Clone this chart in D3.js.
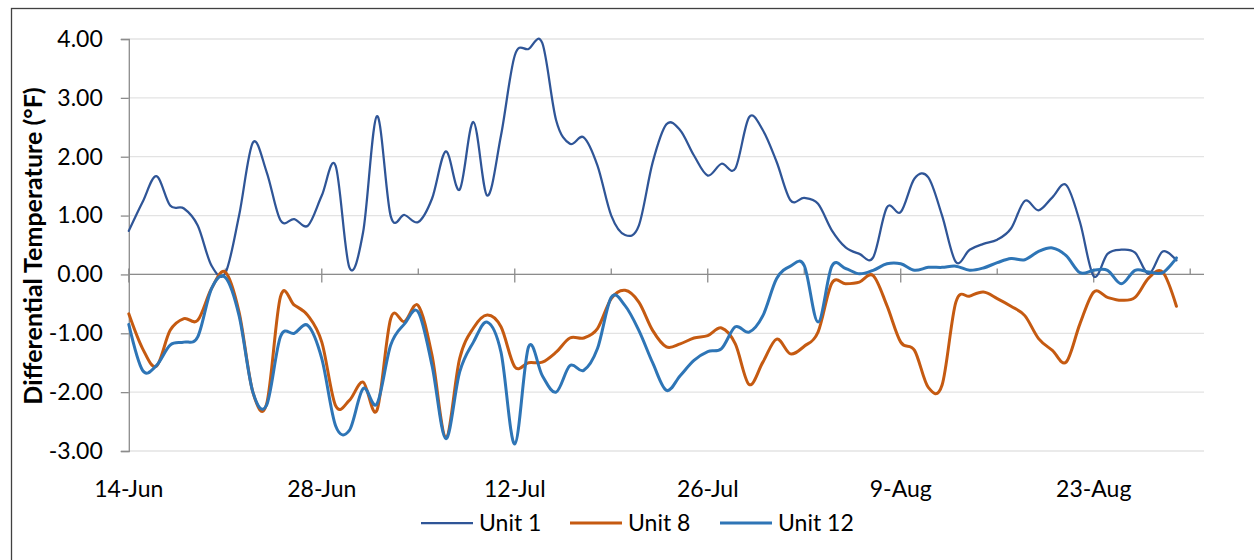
<!DOCTYPE html>
<html>
<head>
<meta charset="utf-8">
<script src="https://cdn.jsdelivr.net/npm/d3@7"></script>
<style>
  html, body { margin: 0; padding: 0; background: #fff; }
  svg { display: block; font-family: Lato, "Open Sans", sans-serif; }
</style>
</head>
<body>
<svg id="chart" width="1254" height="560"></svg>
<script>
// Daily differential temperature (°F), starting 14-Jun
const startDate = "2016-06-14";

const unit1 = [
  0.74, 1.23, 1.67, 1.17, 1.12, 0.83, 0.15, 0.02, 1.00, 2.24, 1.74, 0.92, 0.94,
  0.83, 1.34, 1.85, 0.12, 0.72, 2.69, 0.99, 1.01, 0.89, 1.29, 2.09, 1.44, 2.59,
  1.34, 2.36, 3.72, 3.83, 3.93, 2.62, 2.22, 2.33, 1.85, 1.00, 0.67, 0.83, 1.90,
  2.55, 2.45, 2.02, 1.68, 1.88, 1.80, 2.67, 2.45, 1.91, 1.26, 1.30, 1.20, 0.75,
  0.46, 0.35, 0.29, 1.14, 1.06, 1.63, 1.65, 1.00, 0.21, 0.42, 0.52, 0.59, 0.78,
  1.25, 1.09, 1.31, 1.52, 0.89, -0.03, 0.35, 0.42, 0.37, 0.01, 0.39, 0.24
];

const unit8 = [
  -0.67, -1.26, -1.56, -0.95, -0.75, -0.78, -0.24, 0.04, -0.64, -2.00, -2.20, -0.38, -0.52,
  -0.70, -1.15, -2.23, -2.14, -1.83, -2.31, -0.75, -0.80, -0.53, -1.38, -2.76, -1.43, -0.91,
  -0.69, -0.89, -1.57, -1.50, -1.49, -1.32, -1.08, -1.08, -0.92, -0.41, -0.27, -0.47, -0.95,
  -1.23, -1.18, -1.08, -1.04, -0.91, -1.18, -1.87, -1.49, -1.10, -1.35, -1.22, -0.98, -0.15,
  -0.16, -0.13, -0.02, -0.53, -1.15, -1.29, -1.92, -1.88, -0.47, -0.37, -0.30, -0.41, -0.54,
  -0.70, -1.09, -1.29, -1.49, -0.84, -0.30, -0.39, -0.44, -0.39, -0.06, 0.04, -0.54
];

const unit12 = [
  -0.85, -1.63, -1.55, -1.20, -1.15, -1.06, -0.24, -0.05, -0.70, -2.00, -2.22, -1.06, -1.00,
  -0.87, -1.43, -2.57, -2.65, -1.94, -2.20, -1.20, -0.84, -0.64, -1.55, -2.79, -1.66, -1.15,
  -0.81, -1.32, -2.88, -1.23, -1.72, -2.00, -1.55, -1.63, -1.26, -0.39, -0.53, -0.95, -1.50,
  -1.97, -1.72, -1.46, -1.31, -1.26, -0.89, -0.98, -0.70, -0.07, 0.14, 0.15, -0.81, 0.14,
  0.10, 0.01, 0.07, 0.18, 0.18, 0.07, 0.12, 0.12, 0.14, 0.07, 0.11, 0.20, 0.27,
  0.25, 0.39, 0.45, 0.32, 0.03, 0.07, 0.07, -0.16, 0.07, 0.04, 0.03, 0.28
];

const seriesNames = ["Unit 1", "Unit 8", "Unit 12"];
const yTicks = [4, 3, 2, 1, 0, -1, -2, -3];
const axisEndDate = "2016-08-31";

const colors = { "Unit 1": "#2F5597", "Unit 8": "#C55A11", "Unit 12": "#2E75B6" };
const widths = { "Unit 1": 2.25, "Unit 8": 3, "Unit 12": 3 };

const parse = d3.timeParse("%Y-%m-%d");
const t0 = parse(startDate);
const t1 = parse(axisEndDate);
const dates = unit1.map((_, i) => d3.timeDay.offset(t0, i));

const svg = d3.select("#chart");
const labelSize = 23;

// chart area border
svg.append("rect")
  .attr("x", 11.5).attr("y", 8.5)
  .attr("width", 1260).attr("height", 600)
  .attr("fill", "#fff").attr("stroke", "#404040").attr("stroke-width", 1.3);

const x = d3.scaleTime().domain([t0, t1]).range([128.8, 1204]);
const y = d3.scaleLinear().domain([-3, 4]).range([451, 39]);

// horizontal gridlines
svg.append("g").selectAll("line").data(yTicks).join("line")
  .attr("x1", x.range()[0]).attr("x2", x.range()[1])
  .attr("y1", d => y(d)).attr("y2", d => y(d))
  .attr("stroke", "#e3e3e3").attr("stroke-width", 1.3);

// value axis (plain hyphen for negatives)
const fmtValue = d => d.toFixed(2);
const yAxis = svg.append("g")
  .attr("transform", `translate(${x.range()[0]},0)`)
  .call(d3.axisLeft(y).tickValues(yTicks).tickFormat(fmtValue).tickSize(8).tickPadding(18));
yAxis.select(".domain").attr("stroke", "#8c8c8c").attr("stroke-width", 1.3);
yAxis.selectAll(".tick line").attr("stroke", "#8c8c8c").attr("stroke-width", 1.3);
yAxis.selectAll(".tick text")
  .attr("font-family", "Lato, sans-serif").attr("font-size", labelSize).attr("fill", "#000");

// date axis crossing at zero: major ticks every 14 days, minor every 7
const allDays = d3.timeDay.range(t0, d3.timeDay.offset(t1, 1));
const majorTicks = allDays.filter((d, i) => i % 14 === 0);
const minorTicks = allDays.filter((d, i) => i % 14 === 7);

const xAxis = svg.append("g");
xAxis.append("line")
  .attr("x1", x.range()[0]).attr("x2", x.range()[1])
  .attr("y1", y(0)).attr("y2", y(0))
  .attr("stroke", "#8c8c8c").attr("stroke-width", 1.3);
xAxis.selectAll("line.major").data(majorTicks).join("line").attr("class", "major")
  .attr("x1", d => x(d)).attr("x2", d => x(d))
  .attr("y1", y(0) - 6).attr("y2", y(0) + 8)
  .attr("stroke", "#8c8c8c").attr("stroke-width", 1.3);
xAxis.selectAll("line.minor").data(minorTicks).join("line").attr("class", "minor")
  .attr("x1", d => x(d)).attr("x2", d => x(d))
  .attr("y1", y(0) - 6).attr("y2", y(0))
  .attr("stroke", "#8c8c8c").attr("stroke-width", 1.3);

// date labels sit below the plot
const fmt = d3.timeFormat("%-d-%b");
svg.append("g").selectAll("text").data(majorTicks).join("text")
  .attr("x", d => x(d)).attr("y", 497)
  .attr("text-anchor", "middle")
  .attr("font-size", labelSize).attr("fill", "#000")
  .text(d => fmt(d));

// axis title
svg.append("text")
  .attr("transform", `translate(42,246) rotate(-90)`)
  .attr("text-anchor", "middle")
  .attr("font-size", 25).attr("font-weight", "bold").attr("fill", "#000")
  .text("Differential Temperature (°F)");

// series lines
const seriesData = { "Unit 1": unit1, "Unit 8": unit8, "Unit 12": unit12 };
const line = d3.line()
  .x((d, i) => x(dates[i]))
  .y(d => y(d))
  .curve(d3.curveCatmullRom.alpha(0));

svg.append("g").selectAll("path").data(seriesNames).join("path")
  .attr("d", name => line(seriesData[name]))
  .attr("fill", "none")
  .attr("stroke", name => colors[name])
  .attr("stroke-width", name => widths[name])
  .attr("stroke-linejoin", "round")
  .attr("stroke-linecap", "round");

// legend
const legendX = [421, 570, 720];
const legend = svg.append("g").selectAll("g").data(seriesNames).join("g")
  .attr("transform", (d, i) => `translate(${legendX[i]},523)`);
legend.append("line")
  .attr("x1", 0).attr("x2", 52).attr("y1", 0).attr("y2", 0)
  .attr("stroke", d => colors[d]).attr("stroke-width", d => widths[d]);
legend.append("text")
  .attr("x", 58).attr("y", 0).attr("dy", "0.35em")
  .attr("font-size", labelSize).attr("fill", "#000")
  .text(d => d);
</script>
</body>
</html>
